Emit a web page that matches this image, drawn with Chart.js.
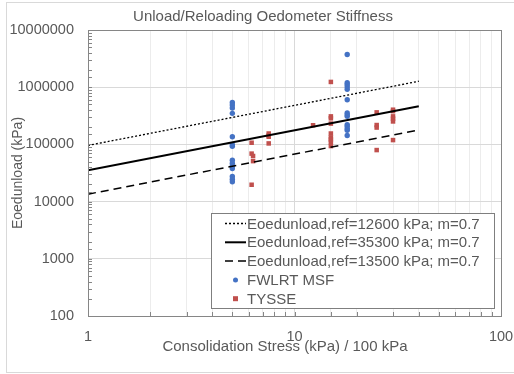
<!DOCTYPE html>
<html>
<head>
<meta charset="utf-8">
<script src="https://cdn.jsdelivr.net/npm/chart.js@4.4.1/dist/chart.umd.min.js"></script>
<style>
  html, body { margin: 0; padding: 0; background: #fff; }
  #wrap { position: relative; width: 514px; height: 374px; }
</style>
</head>
<body>
<div id="wrap"><canvas id="chart" width="514" height="374"></canvas></div>
<script>
  // reference lines (two end points)
  var lineX = [1, 40];
  var lineHigh = [96000, 1270000];
  var lineMid = [35300, 466000];
  var lineLow = [13500, 178000];
  var lineLabels = [
    'Eoedunload,ref=12600 kPa; m=0.7',
    'Eoedunload,ref=35300 kPa; m=0.7',
    'Eoedunload,ref=13500 kPa; m=0.7'
  ];

  // FWLRT MSF
  var fwX = [5,5,5,5,5,5,5,5,5,5,5,5,5,5,
             18,18,18,18,18,18,18,18,18,18,18,18,18,18];
  var fwY = [541000,488000,432000,349000,136000,99000,93000,53000,47000,42000,38000,27500,24700,22200,
             3740000,1200000,1120000,1020000,923000,603000,354000,331000,309000,222000,208000,189000,177000,143000];

  // TYSSE
  var tyX = [6.2,6.2,6.3,6.3,6.2,
             7.5,7.5,7.5,7.5,
             12.3,
             15,15,15,15,15,15,15,15,15,
             25,25,25,25,
             30,30,30,30,30,30];
  var tyY = [107000,69000,62700,51000,19700,
             155000,143000,136000,104000,
             216000,
             1236000,309000,286000,231000,155000,132000,122000,109000,93500,
             363000,218000,197000,79600,
             404000,381000,309000,282000,252000,119000];

  var xTicks = [1, 10, 100];
  var yTicks = [100, 1000, 10000, 100000, 1000000, 10000000];
  var chartTitle = 'Unload/Reloading Oedometer Stiffness';
  var xTitle = 'Consolidation Stress (kPa) / 100 kPa';

  var textColor = '#595959';
  var blue = '#4472C4';
  var red = '#C0504D';
  var fontFamily = '"Liberation Sans", Arial, sans-serif';

  function pts(xs, ys) {
    return xs.map(function (x, i) { return { x: x, y: ys[i] }; });
  }
  function isDecade(v) {
    var l = Math.log10(v);
    return Math.abs(l - Math.round(l)) < 1e-9;
  }

  var frame = {
    id: 'frame',
    beforeDraw: function (chart) {
      var c = chart.ctx;
      c.save();
      c.fillStyle = '#fff';
      c.fillRect(0, 0, chart.width, chart.height);
      c.strokeStyle = '#d9d9d9';
      c.lineWidth = 1;
      c.strokeRect(6.5, 2.5, 530, 370);
      // chart title and x axis title
      c.fillStyle = textColor;
      c.font = '15px ' + fontFamily;
      c.textAlign = 'center';
      c.textBaseline = 'middle';
      c.fillText(chartTitle, 263, 17);
      c.fillText(xTitle, 285, 347);
      c.restore();
    },
    afterDatasetsDraw: function (chart) {
      var c = chart.ctx, a = chart.chartArea;
      var xs = chart.scales.x, ys = chart.scales.y;
      c.save();
      c.strokeStyle = '#868686';
      c.lineWidth = 1;
      // minor tick marks inside the plot
      c.beginPath();
      xs.ticks.forEach(function (t) {
        var px = Math.round(xs.getPixelForValue(t.value)) + 0.5;
        c.moveTo(px, a.bottom);
        c.lineTo(px, a.bottom - 4);
      });
      ys.ticks.forEach(function (t) {
        var py = Math.round(ys.getPixelForValue(t.value)) + 0.5;
        c.moveTo(a.left, py);
        c.lineTo(a.left + 4, py);
      });
      c.stroke();
      c.strokeRect(Math.round(a.left) + 0.5, Math.round(a.top) + 0.5,
                   Math.round(a.right - a.left), Math.round(a.bottom - a.top));

      // legend box
      var bx = 211, by = 213, bw = 283, bh = 95;
      c.fillStyle = '#fff';
      c.fillRect(bx, by, bw, bh);
      c.strokeStyle = '#7f7f7f';
      c.strokeRect(bx + 0.5, by + 0.5, bw, bh);
      c.font = '15px ' + fontFamily;
      c.textBaseline = 'middle';
      c.textAlign = 'left';
      chart.data.datasets.forEach(function (ds, i) {
        var y = by + 10.5 + i * 18.8;
        if (ds.showLine) {
          c.strokeStyle = ds.borderColor;
          c.lineWidth = ds.borderWidth;
          c.setLineDash(ds.borderDash || []);
          c.beginPath();
          c.moveTo(225, y);
          c.lineTo(246, y);
          c.stroke();
          c.setLineDash([]);
        } else {
          c.fillStyle = ds.backgroundColor;
          if (ds.pointStyle === 'rect') {
            c.fillRect(233, y - 2.5, 5, 5);
          } else {
            c.beginPath();
            c.arc(235.5, y, 2.5, 0, Math.PI * 2);
            c.fill();
          }
        }
        c.fillStyle = textColor;
        c.fillText(ds.label, 247, y + 1);
      });
      c.restore();
    }
  };

  var ctx = document.getElementById('chart');
  var myChart = new Chart(ctx, {
    type: 'scatter',
    data: {
      datasets: [
        {
          label: lineLabels[0],
          data: pts(lineX, lineHigh),
          showLine: true,
          borderColor: '#000',
          borderWidth: 1.3,
          borderDash: [2, 2],
          pointRadius: 0
        },
        {
          label: lineLabels[1],
          data: pts(lineX, lineMid),
          showLine: true,
          borderColor: '#000',
          borderWidth: 2,
          pointRadius: 0
        },
        {
          label: lineLabels[2],
          data: pts(lineX, lineLow),
          showLine: true,
          borderColor: '#000',
          borderWidth: 1.5,
          borderDash: [8, 5],
          pointRadius: 0
        },
        {
          label: 'FWLRT MSF',
          data: pts(fwX, fwY),
          pointStyle: 'circle',
          pointRadius: 2.7,
          backgroundColor: blue,
          borderColor: blue,
          borderWidth: 0
        },
        {
          label: 'TYSSE',
          data: pts(tyX, tyY),
          pointStyle: 'rect',
          pointRadius: 3.2,
          backgroundColor: red,
          borderColor: red,
          borderWidth: 0
        }
      ]
    },
    options: {
      responsive: false,
      animation: false,
      layout: { padding: { left: 0, right: 13, top: 30, bottom: 0 } },
      plugins: {
        legend: { display: false },
        tooltip: { enabled: false },
        title: { display: false }
      },
      scales: {
        x: {
          type: 'logarithmic',
          min: 1,
          max: 100,
          border: { display: true, color: '#868686' },
          grid: {
            drawTicks: false,
            color: function (c) {
              if (!c.tick) return 'transparent';
              return isDecade(c.tick.value) ? '#d9d9d9' : '#ececec';
            }
          },
          ticks: {
            autoSkip: false,
            maxRotation: 0,
            padding: 12,
            color: textColor,
            font: { family: fontFamily, size: 14.5 },
            callback: function (v) { return xTicks.indexOf(v) >= 0 ? String(v) : ''; }
          },
          afterFit: function (s) { s.height = 58; s.paddingLeft = 0; s.paddingRight = 0; }
        },
        y: {
          type: 'logarithmic',
          min: 100,
          max: 10000000,
          border: { display: true, color: '#868686' },
          grid: {
            drawTicks: false,
            color: function (c) {
              if (!c.tick) return 'transparent';
              return isDecade(c.tick.value) ? '#d9d9d9' : 'transparent';
            }
          },
          ticks: {
            autoSkip: false,
            padding: 14,
            color: textColor,
            font: { family: fontFamily, size: 14.5 },
            callback: function (v) { return yTicks.indexOf(v) >= 0 ? String(v) : ''; }
          },
          title: {
            display: true,
            text: 'Eoedunload (kPa)',
            color: textColor,
            font: { family: fontFamily, size: 14 },
            padding: { top: 10, bottom: 0 }
          },
          afterFit: function (s) { s.width = 88; s.paddingTop = 0; s.paddingBottom = 0; }
        }
      }
    },
    plugins: [frame]
  });
</script>
</body>
</html>
